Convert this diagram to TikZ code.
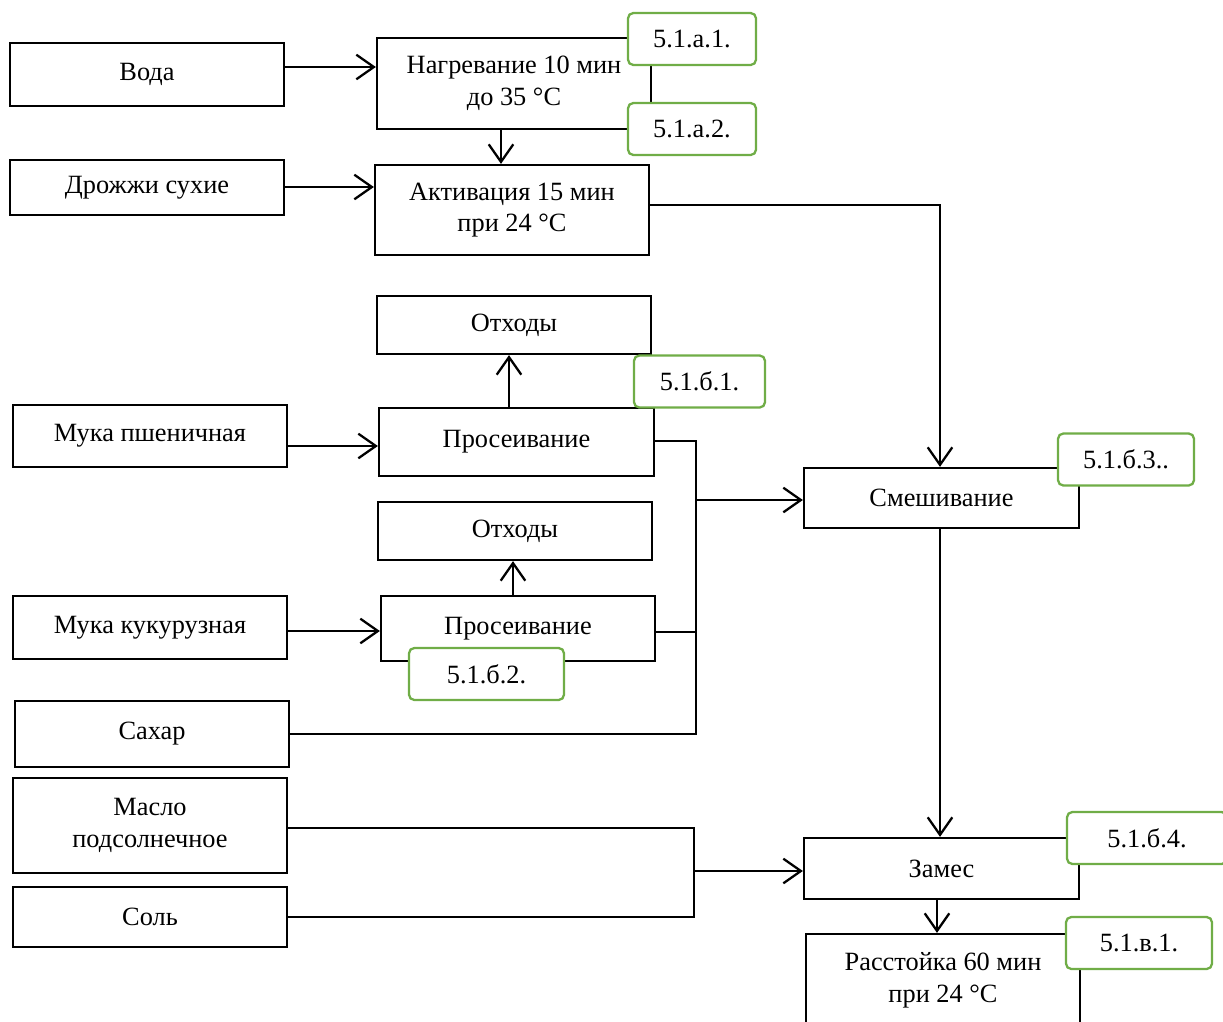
\documentclass[tikz,border=0pt]{standalone}
\usepackage{fontspec}
\setmainfont{Liberation Serif}
\usetikzlibrary{arrows.meta}
\definecolor{StepGreen}{HTML}{70AD47}

\begin{document}
\begin{tikzpicture}[
    x=0.02cm, y=-0.02cm,
    box/.style={draw, line width=1.3pt, minimum width=5.48cm, align=center,
                font=\fontsize{15}{18}\selectfont, inner sep=2pt},
    tag/.style={draw=StepGreen, fill=white, line width=1.3pt, rounded corners=3pt,
                minimum height=1.04cm, font=\fontsize{15}{18}\selectfont},
    arr/.style={line width=1.3pt, -{Straight Barb[length=10pt,width=14pt]}},
    ln/.style={line width=1.3pt}
  ]
    \useasboundingbox (0,0) rectangle (1223,1021);
    % input boxes
    \node[box, minimum height=1.26cm] (voda)  at (147,74.5) {Вода};
    \node[box, minimum height=1.10cm] (drozh) at (147,187.5) {Дрожжи сухие};
    \node[box, minimum height=1.24cm] (muka1) at (150,436) {Мука пшеничная};
    \node[box, minimum height=1.26cm] (muka2) at (150,627.5) {Мука кукурузная};
    \node[box, minimum height=1.32cm] (sahar) at (152,734) {Сахар};
    \node[box, minimum height=1.90cm] (maslo) at (150,825.5) {Масло\\подсолнечное};
    \node[box, minimum height=1.20cm] (sol)   at (150,917) {Соль};
    % process boxes
    \node[box, minimum height=1.82cm] (nagrev) at (514,83.5) {Нагревание 10 мин\\до 35 °C};
    \node[box, minimum height=1.80cm] (aktiv)  at (512,210) {Активация 15 мин\\при 24 °C};
    \node[box, minimum height=1.16cm] (otx1)   at (514,325) {Отходы};
    \node[box, minimum height=1.36cm, minimum width=5.5cm] (pros1) at (516.5,442) {Просеивание};
    \node[box, minimum height=1.16cm] (otx2)   at (515,531) {Отходы};
    \node[box, minimum height=1.30cm] (pros2)  at (518,628.5) {Просеивание};
    \node[box, minimum height=1.20cm, minimum width=5.5cm] (smesh) at (941.5,498) {Смешивание};
    \node[box, minimum height=1.22cm, minimum width=5.5cm] (zames) at (941.5,868.5) {Замес};
    \node[box, minimum height=1.84cm] (rasst)  at (943,980) {Расстойка 60 мин\\при 24 °C};

    % junction points
    \coordinate (t1) at (696,441);
    \coordinate (t2) at (696,734);
    \coordinate (t3) at (696,500);
    \coordinate (m1) at (694,828);
    \coordinate (m2) at (694,917);
    \coordinate (m3) at (694,871);

    % connectors
    \draw[arr] (voda.east |- 0,67) -- (nagrev.west |- 0,67);
    \draw[arr] (drozh.east |- 0,187) -- (aktiv.west |- 0,187);
    \draw[arr] (nagrev.south -| 501,0) -- (aktiv.north -| 501,0);
    \draw[arr] (aktiv.east |- 0,205) -| (smesh.north -| 940,0);
    \draw[arr] (pros1.north -| 509,0) -- (otx1.south -| 509,0);
    \draw[arr] (muka1.east |- 0,446) -- (pros1.west |- 0,446);
    \draw[arr] (pros2.north -| 513,0) -- (otx2.south -| 513,0);
    \draw[arr] (muka2.east |- 0,631) -- (pros2.west |- 0,631);
    \draw[ln] (pros1.east |- t1) -- (t1) -- (t2) -- (sahar.east |- t2);
    \draw[ln] (pros2.east |- 0,632) -- (t1 |- 0,632);
    \draw[arr] (t3) -- (smesh.west |- t3);
    \draw[ln] (maslo.east |- m1) -- (m1) -- (m2) -- (sol.east |- m2);
    \draw[arr] (m3) -- (zames.west |- m3);
    \draw[arr] (smesh.south -| 940,0) -- (zames.north -| 940,0);
    \draw[arr] (zames.south -| 937,0) -- (rasst.north -| 937,0);

    % step labels
    \node[tag, minimum width=2.56cm] (a1) at (692,39) {5.1.а.1.};
    \node[tag, minimum width=2.56cm] (a2) at (692,129) {5.1.а.2.};
    \node[tag, minimum width=2.62cm] (b1) at (699.5,381.5) {5.1.б.1.};
    \node[tag, minimum width=3.10cm] (b2) at (486.5,674) {5.1.б.2.};
    \node[tag, minimum width=2.72cm] (b3) at (1126,459.5) {5.1.б.3..};
    \node[tag, minimum width=3.20cm] (b4) at (1147,838) {5.1.б.4.};
    \node[tag, minimum width=2.92cm] (v1) at (1139,943) {5.1.в.1.};
  \end{tikzpicture}
\end{document}
